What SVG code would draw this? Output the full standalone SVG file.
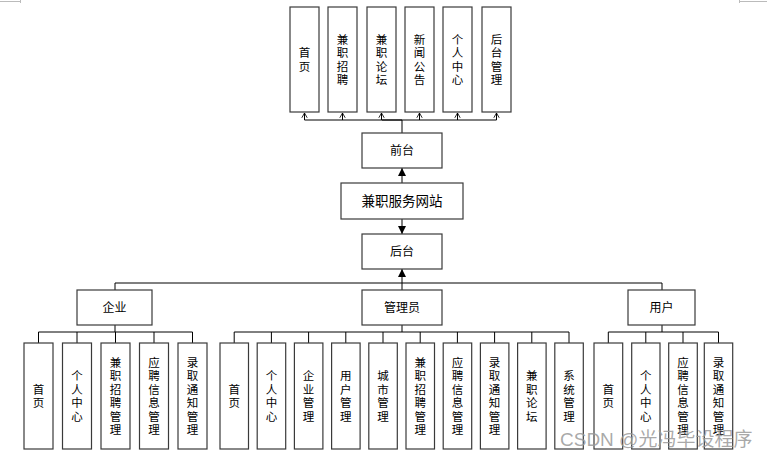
<svg xmlns="http://www.w3.org/2000/svg" width="767" height="456" viewBox="0 0 767 456">
<defs>
<style>
.box{fill:#fff;stroke:#3a3a3a;stroke-width:1.2}
.ln{stroke:#000;stroke-width:1;fill:none}
.t{font-family:"Noto Sans CJK SC","Liberation Sans",sans-serif;fill:#000;text-anchor:middle}
.v{font-size:11.5px;writing-mode:vertical-rl;text-orientation:upright;letter-spacing:2px}
.h{font-size:12px}
</style>
<marker id="fa" viewBox="0 0 10 10" refX="10" refY="5" markerWidth="8" markerHeight="8" markerUnits="userSpaceOnUse" orient="auto">
<path d="M0,0 L10,5 L0,10 z" fill="#000"/>
</marker>
<marker id="oa" viewBox="0 0 10 10" refX="10" refY="5" markerWidth="6" markerHeight="7" markerUnits="userSpaceOnUse" orient="auto">
<path d="M2,0.5 L10,5 L2,9.5" fill="none" stroke="#000" stroke-width="1.4"/>
</marker>
</defs>
<rect width="767" height="456" fill="#fff"/>
<g id="corner-marks" stroke="#bbb" stroke-width="1">
<path d="M0,1.5 H20 M20.5,0 V3"/>
<path d="M739.5,1.5 H767 M739.5,0 V3"/>
</g>

<g id="connectors">
<line class="ln" x1="402" y1="133" x2="402" y2="120" stroke-width="2"/>
<line class="ln" x1="304.5" y1="120" x2="496.5" y2="120"/>
<line class="ln" x1="382" y1="120" x2="402" y2="120" stroke-width="2"/>
<line class="ln" x1="304.5" y1="120" x2="304.5" y2="113" marker-end="url(#oa)"/>
<line class="ln" x1="342.5" y1="120" x2="342.5" y2="113" marker-end="url(#oa)"/>
<line class="ln" x1="381.5" y1="120" x2="381.5" y2="113" marker-end="url(#oa)"/>
<line class="ln" x1="419.5" y1="120" x2="419.5" y2="113" marker-end="url(#oa)"/>
<line class="ln" x1="457.5" y1="120" x2="457.5" y2="113" marker-end="url(#oa)"/>
<line class="ln" x1="496.5" y1="120" x2="496.5" y2="113" marker-end="url(#oa)"/>
<line class="ln" x1="402" y1="183" x2="402" y2="168" marker-end="url(#fa)"/>
<line class="ln" x1="402" y1="219" x2="402" y2="234" marker-end="url(#fa)"/>
<line class="ln" x1="402" y1="290" x2="402" y2="269" marker-end="url(#fa)"/>
<polyline class="ln" points="115,290 115,283 662,283 662,290"/>
<line class="ln" x1="115" y1="325" x2="115" y2="332"/>
<line class="ln" x1="38.5" y1="332" x2="192.5" y2="332"/>
<path class="ln" d="M38.5,332 V343 M77,332 V343 M115.5,332 V343 M154,332 V343 M192.5,332 V343"/>
<line class="ln" x1="402" y1="325" x2="402" y2="332" stroke-width="2"/>
<line class="ln" x1="234.2" y1="332" x2="569" y2="332"/>
<path class="ln" d="M234.2,332 V343 M271.4,332 V343 M308.6,332 V343 M345.8,332 V343 M383,332 V343 M420.2,332 V343 M457.4,332 V343 M494.6,332 V343 M531.8,332 V343 M569,332 V343"/>
<line class="ln" x1="662" y1="325" x2="662" y2="332"/>
<line class="ln" x1="608.3" y1="332" x2="718.5" y2="332"/>
<path class="ln" d="M608.3,332 V343 M645.8,332 V343 M683,332 V343 M718.5,332 V343"/>
</g>

<g id="n-shouye-top"><rect class="box" x="290" y="7" width="29" height="105"/>
<text class="t v" x="304.5" y="60.5">首页</text></g>
<g id="n-jianzhizhaopin-top"><rect class="box" x="328" y="7" width="29" height="105"/>
<text class="t v" x="342.5" y="60.5">兼职招聘</text></g>
<g id="n-jianzhiluntan-top"><rect class="box" x="367" y="7" width="29" height="105"/>
<text class="t v" x="381.5" y="60.5">兼职论坛</text></g>
<g id="n-xinwengonggao"><rect class="box" x="405" y="7" width="29" height="105"/>
<text class="t v" x="419.5" y="60.5">新闻公告</text></g>
<g id="n-gerenzhongxin-top"><rect class="box" x="443" y="7" width="29" height="105"/>
<text class="t v" x="457.5" y="60.5">个人中心</text></g>
<g id="n-houtaiguanli"><rect class="box" x="482" y="7" width="29" height="105"/>
<text class="t v" x="496.5" y="60.5">后台管理</text></g>

<g id="n-qiantai"><rect class="box" x="362" y="133" width="80" height="35"/>
<text class="t h" x="402" y="155">前台</text></g>
<g id="n-site"><rect class="box" x="341" y="183" width="122" height="36"/>
<text class="t" x="402" y="206" font-size="13.5">兼职服务网站</text></g>
<g id="n-houtai"><rect class="box" x="362" y="234" width="80" height="35"/>
<text class="t h" x="402" y="256">后台</text></g>

<g id="n-qiye"><rect class="box" x="77" y="290" width="75" height="35"/>
<text class="t h" x="114.5" y="312">企业</text></g>
<g id="n-guanliyuan"><rect class="box" x="362" y="290" width="80" height="35"/>
<text class="t h" x="402" y="312">管理员</text></g>
<g id="n-yonghu"><rect class="box" x="628" y="290" width="67" height="35"/>
<text class="t h" x="661.5" y="312">用户</text></g>

<g id="n-qy-shouye"><rect class="box" x="24" y="343" width="29" height="106"/>
<text class="t v" x="38.5" y="397">首页</text></g>
<g id="n-qy-geren"><rect class="box" x="62.5" y="343" width="29" height="106"/>
<text class="t v" x="77" y="397">个人中心</text></g>
<g id="n-qy-zhaopin"><rect class="box" x="101" y="343" width="29" height="106"/>
<text class="t v" x="115.5" y="397">兼职招聘管理</text></g>
<g id="n-qy-yingpin"><rect class="box" x="139.5" y="343" width="29" height="106"/>
<text class="t v" x="154" y="397">应聘信息管理</text></g>
<g id="n-qy-luqu"><rect class="box" x="178" y="343" width="29" height="106"/>
<text class="t v" x="192.5" y="397">录取通知管理</text></g>

<g id="n-gl-shouye"><rect class="box" x="220" y="343" width="28.5" height="106"/>
<text class="t v" x="234.2" y="397">首页</text></g>
<g id="n-gl-geren"><rect class="box" x="257.2" y="343" width="28.5" height="106"/>
<text class="t v" x="271.4" y="397">个人中心</text></g>
<g id="n-gl-qiye"><rect class="box" x="294.4" y="343" width="28.5" height="106"/>
<text class="t v" x="308.6" y="397">企业管理</text></g>
<g id="n-gl-yonghu"><rect class="box" x="331.6" y="343" width="28.5" height="106"/>
<text class="t v" x="345.8" y="397">用户管理</text></g>
<g id="n-gl-chengshi"><rect class="box" x="368.8" y="343" width="28.5" height="106"/>
<text class="t v" x="383" y="397">城市管理</text></g>
<g id="n-gl-zhaopin"><rect class="box" x="406" y="343" width="28.5" height="106"/>
<text class="t v" x="420.2" y="397">兼职招聘管理</text></g>
<g id="n-gl-yingpin"><rect class="box" x="443.2" y="343" width="28.5" height="106"/>
<text class="t v" x="457.4" y="397">应聘信息管理</text></g>
<g id="n-gl-luqu"><rect class="box" x="480.4" y="343" width="28.5" height="106"/>
<text class="t v" x="494.6" y="397">录取通知管理</text></g>
<g id="n-gl-luntan"><rect class="box" x="517.6" y="343" width="28.5" height="106"/>
<text class="t v" x="531.8" y="397">兼职论坛</text></g>
<g id="n-gl-xitong"><rect class="box" x="554.8" y="343" width="28.5" height="106"/>
<text class="t v" x="569" y="397">系统管理</text></g>

<g id="n-yh-shouye"><rect class="box" x="594" y="343" width="28.7" height="106"/>
<text class="t v" x="608.3" y="397">首页</text></g>
<g id="n-yh-geren"><rect class="box" x="631.7" y="343" width="28.3" height="106"/>
<text class="t v" x="645.8" y="397">个人中心</text></g>
<g id="n-yh-yingpin"><rect class="box" x="668.7" y="343" width="28.6" height="106"/>
<text class="t v" x="683" y="397">应聘信息管理</text></g>
<g id="n-yh-luqu"><rect class="box" x="704.3" y="343" width="28.4" height="106"/>
<text class="t v" x="718.5" y="397">录取通知管理</text></g>

<g id="watermark">
<text x="560" y="446" font-family="'Liberation Sans','Noto Sans CJK SC',sans-serif" font-size="19" fill="#9a9a9a" fill-opacity="0.85">CSDN @光冯毕设程序</text>
</g>
</svg>
